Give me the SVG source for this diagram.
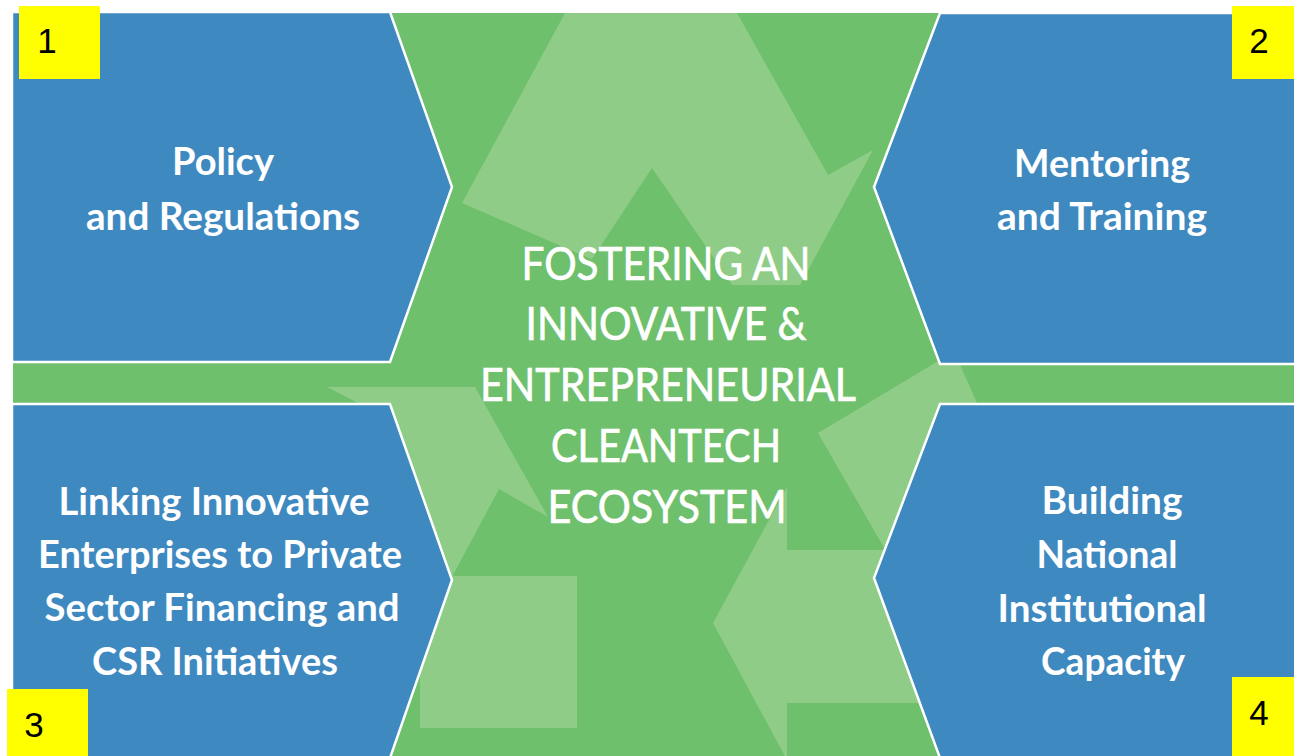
<svg xmlns="http://www.w3.org/2000/svg" width="1294" height="756" viewBox="0 0 1294 756">
<style>
.bg{fill:#6fc06c}
.lt{fill:#8ecc87}
.dk{fill:#6fc06c}
.box{fill:#3f89c1;stroke:#ffffff;stroke-width:2.5;stroke-linejoin:miter}
.lbl{font-family:"Lato","Open Sans",sans-serif;font-weight:700;font-size:38px;fill:#ffffff}
.ttl{font-family:"Lato","Open Sans",sans-serif;font-weight:400;font-size:46px;fill:#ffffff;stroke:#ffffff;stroke-width:0.7}
.num{fill:#ffff00}
.numt{font-family:"Liberation Sans",Arial,sans-serif;font-size:35px;fill:#000000}
</style>
<rect x="0" y="0" width="1294" height="756" fill="#ffffff"/>
<g id="background">
<rect class="bg" x="13" y="13" width="1281" height="743"/>
<polygon class="lt" points="462,203 565,13 737,13 828,175 873,150 800,285 651,285"/>
<polygon class="dk" points="652,168 590,262 651,286 733,286"/>
<polygon class="lt" points="327,387 475,387 548,517 499,489 445,590 390,590 360,404"/>
<rect class="lt" x="420" y="576" width="157" height="152"/>
<polygon class="lt" points="713,623 787,487 787,550 990,550 990,703 787,703 787,760"/>
<polygon class="lt" points="818,433 940,360 958,360 980,410 990,560 887,553"/>
</g>
<g id="connectors"/>
<g id="node-policy">
<polygon class="box" points="12,12 390,12 452,187 390,362 12,362"/>
<text class="lbl" x="223" y="175" text-anchor="middle" textLength="102" lengthAdjust="spacingAndGlyphs">Policy</text>
<text class="lbl" x="223" y="230" text-anchor="middle" textLength="274" lengthAdjust="spacingAndGlyphs">and Regulations</text>
<rect class="num" x="19" y="6" width="81" height="73"/>
<text class="numt" x="47" y="53" text-anchor="middle">1</text>
</g>
<g id="node-mentoring">
<polygon class="box" points="1297,13 940,13 874,187 940,364 1297,364"/>
<text class="lbl" x="1102" y="177" text-anchor="middle" textLength="176" lengthAdjust="spacingAndGlyphs">Mentoring</text>
<text class="lbl" x="1102" y="230" text-anchor="middle" textLength="210" lengthAdjust="spacingAndGlyphs">and Training</text>
<rect class="num" x="1232" y="6" width="62" height="73"/>
<text class="numt" x="1259" y="53" text-anchor="middle">2</text>
</g>
<g id="node-linking">
<polygon class="box" points="12,404 390,404 452,580 390,758 12,758"/>
<text class="lbl" x="214" y="515" text-anchor="middle" textLength="311" lengthAdjust="spacingAndGlyphs">Linking Innovative</text>
<text class="lbl" x="220" y="568" text-anchor="middle" textLength="364" lengthAdjust="spacingAndGlyphs">Enterprises to Private</text>
<text class="lbl" x="222" y="621" text-anchor="middle" textLength="355" lengthAdjust="spacingAndGlyphs">Sector Financing and</text>
<text class="lbl" x="215" y="675" text-anchor="middle" textLength="246" lengthAdjust="spacingAndGlyphs">CSR Initiatives</text>
<rect class="num" x="7" y="689" width="81" height="67"/>
<text class="numt" x="34" y="737" text-anchor="middle">3</text>
</g>
<g id="node-building">
<polygon class="box" points="1297,404 940,404 874,578 940,758 1297,758"/>
<text class="lbl" x="1112" y="514" text-anchor="middle" textLength="141" lengthAdjust="spacingAndGlyphs">Building</text>
<text class="lbl" x="1107" y="568" text-anchor="middle" textLength="141" lengthAdjust="spacingAndGlyphs">National</text>
<text class="lbl" x="1102" y="622" text-anchor="middle" textLength="209" lengthAdjust="spacingAndGlyphs">Institutional</text>
<text class="lbl" x="1113" y="675" text-anchor="middle" textLength="144" lengthAdjust="spacingAndGlyphs">Capacity</text>
<rect class="num" x="1232" y="677" width="62" height="79"/>
<text class="numt" x="1259" y="725" text-anchor="middle">4</text>
</g>
<g id="node-center">
<text class="ttl" x="666" y="280" text-anchor="middle" textLength="289" lengthAdjust="spacingAndGlyphs">FOSTERING AN</text>
<text class="ttl" x="666" y="340" text-anchor="middle" textLength="281" lengthAdjust="spacingAndGlyphs">INNOVATIVE &amp;</text>
<text class="ttl" x="668" y="401" text-anchor="middle" textLength="376" lengthAdjust="spacingAndGlyphs">ENTREPRENEURIAL</text>
<text class="ttl" x="666" y="462" text-anchor="middle" textLength="230" lengthAdjust="spacingAndGlyphs">CLEANTECH</text>
<text class="ttl" x="667" y="523" text-anchor="middle" textLength="239" lengthAdjust="spacingAndGlyphs">ECOSYSTEM</text>
</g>
</svg>
